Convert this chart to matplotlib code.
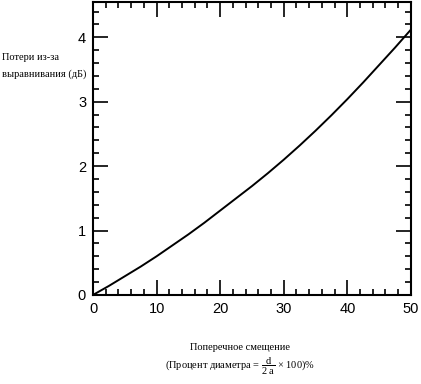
import matplotlib
import matplotlib.pyplot as plt
from matplotlib.ticker import MultipleLocator

matplotlib.rcParams['mathtext.fontset'] = 'custom'
matplotlib.rcParams['mathtext.rm'] = 'Liberation Serif'
matplotlib.rcParams['mathtext.it'] = 'Liberation Serif:italic'

# смещение (% диаметра) и потери (дБ)
offset = [0, 2.5, 5, 7.5, 10, 12.5, 15, 17.5, 20, 22.5, 25,
          27.5, 30, 32.5, 35, 37.5, 40, 42.5, 45, 47.5, 50]
loss = [0.00, 0.14, 0.29, 0.44, 0.60, 0.77, 0.94, 1.12, 1.31, 1.50, 1.69,
        1.89, 2.10, 2.32, 2.55, 2.79, 3.04, 3.30, 3.57, 3.84, 4.12]

fig = plt.figure(figsize=(4.21, 3.84), dpi=100)
ax = fig.add_axes([0.221, 0.232, 0.755, 0.763])

ax.plot(offset, loss, color='black', linewidth=1.4)

ax.set_xlim(0, 50)
ax.set_ylim(0, 4.55)
ax.xaxis.set_major_locator(MultipleLocator(10))
ax.xaxis.set_minor_locator(MultipleLocator(2))
ax.yaxis.set_major_locator(MultipleLocator(1))
ax.yaxis.set_minor_locator(MultipleLocator(0.2))
ax.tick_params(which='both', direction='in', top=True, right=True, width=1.2)
ax.tick_params(which='major', length=11)
ax.tick_params(which='minor', length=4.5)
ax.tick_params(axis='both', labelsize=10.5, pad=5)
for lab in ax.get_xticklabels() + ax.get_yticklabels():
    lab.set_family('Liberation Sans')
for s in ax.spines.values():
    s.set_linewidth(1.5)

fig.text(0.005, 0.828, 'Потери из-за\nвыравнивания (дБ)', fontsize=7.5,
         family='Liberation Serif', ha='left', va='center', linespacing=1.9)
fig.text(0.57, 0.096, 'Поперечное смещение', fontsize=7.5,
         family='Liberation Serif', ha='center', va='center')
fig.text(0.57, 0.045, r'(Процент диаметра = $\dfrac{\mathrm{d}}{\mathrm{2\ a}}$ × 100)%',
         fontsize=7.5, family='Liberation Serif', ha='center', va='center')

fig.savefig('out.png', dpi=100)
